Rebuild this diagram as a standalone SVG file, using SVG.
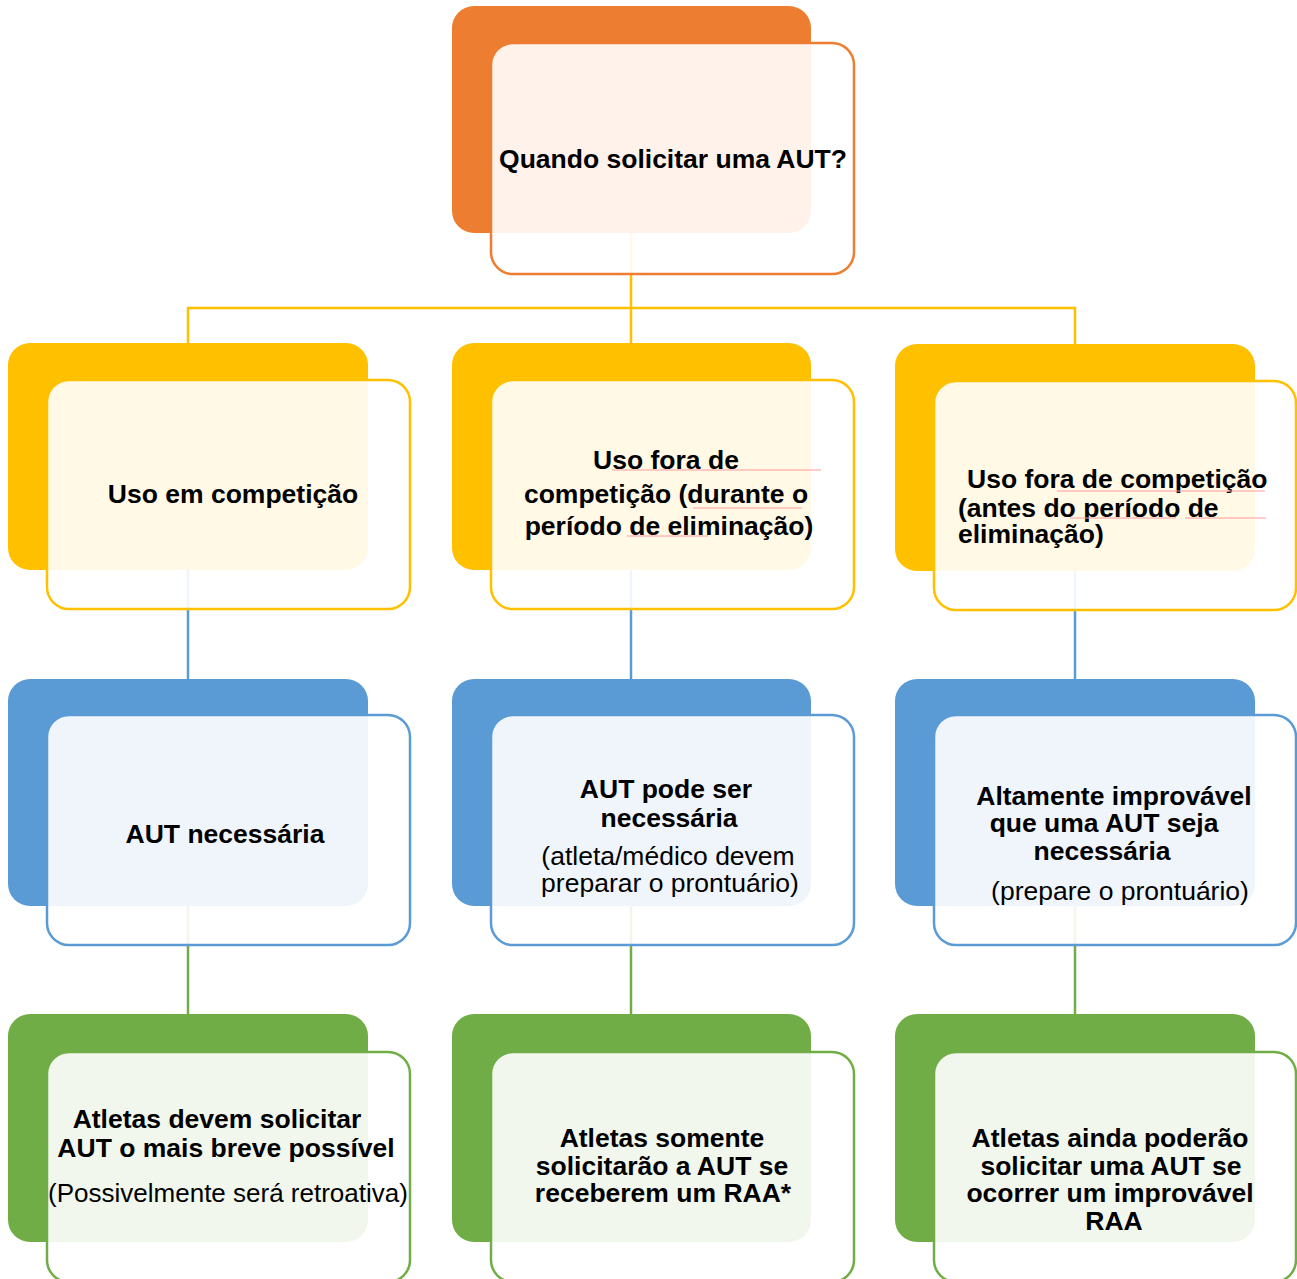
<svg xmlns="http://www.w3.org/2000/svg" width="1297" height="1279" viewBox="0 0 1297 1279">
<style>
.bk{stroke:none}
.fr{fill:#ffffff;fill-opacity:0.9;stroke-width:2.5}
.t{font-family:"Liberation Sans",Arial,sans-serif;fill:#000;font-size:26.5px;font-weight:bold}
.r{font-family:"Liberation Sans",Arial,sans-serif;fill:#000;font-size:26.5px;font-weight:normal}
.m{text-anchor:middle}
.sq{stroke:#ff9a9a;stroke-width:1;fill:none}
.cn{fill:none;stroke-width:2.5}
</style>
<rect width="1297" height="1279" fill="#ffffff"/>
<g id="connectors">
<path class="cn" stroke="#FFC000" d="M631 233V343M188 343V308H1075V344"/>
<path class="cn" stroke="#5B9BD5" d="M188 570V679M631 570V679M1075 571V679"/>
<path class="cn" stroke="#70AD47" d="M188 906V1014M631 906V1014M1075 906V1014"/>
</g>
<g id="n0">
<rect class="bk" x="452" y="6" width="359" height="227" rx="22" fill="#ED7D31"/>
<rect class="fr" x="491" y="43" width="363" height="231" rx="22" stroke="#ED7D31"/>
<text class="t m" x="673" y="168">Quando solicitar uma AUT?</text>
</g>
<g id="n1">
<rect class="bk" x="8" y="343" width="360" height="227" rx="22" fill="#FFC000"/>
<rect class="fr" x="47" y="380" width="363" height="229" rx="22" stroke="#FFC000"/>
<text class="t m" x="233" y="503">Uso em competição</text>
</g>
<g id="n2">
<rect class="bk" x="452" y="343" width="359" height="227" rx="22" fill="#FFC000"/>
<rect class="fr" x="491" y="380" width="363" height="229" rx="22" stroke="#FFC000"/>
<text class="t m" x="666" y="469">Uso fora de</text>
<text class="t m" x="666" y="503">competição (durante o</text>
<text class="t m" x="669" y="535">período de eliminação)</text>
<path class="sq" d="M612 470H821M693 508H802M627 536H708"/>
</g>
<g id="n3">
<rect class="bk" x="895" y="344" width="360" height="227" rx="22" fill="#FFC000"/>
<rect class="fr" x="934" y="381" width="362" height="229" rx="22" stroke="#FFC000"/>
<text class="t" x="967" y="488">Uso fora de competição</text>
<text class="t" x="958" y="517">(antes do período de</text>
<text class="t" x="958" y="543">eliminação)</text>
<path class="sq" d="M1057 491H1265M1070 518H1176M1185 518H1266"/>
</g>
<g id="n4">
<rect class="bk" x="8" y="679" width="360" height="227" rx="22" fill="#5B9BD5"/>
<rect class="fr" x="47" y="715" width="363" height="230" rx="22" stroke="#5B9BD5"/>
<text class="t m" x="225" y="843">AUT necessária</text>
</g>
<g id="n5">
<rect class="bk" x="452" y="679" width="359" height="227" rx="22" fill="#5B9BD5"/>
<rect class="fr" x="491" y="715" width="363" height="230" rx="22" stroke="#5B9BD5"/>
<text class="t m" x="666" y="798">AUT pode ser</text>
<text class="t m" x="669" y="827">necessária</text>
<text class="r m" x="668" y="865">(atleta/médico devem</text>
<text class="r m" x="670" y="892">preparar o prontuário)</text>
</g>
<g id="n6">
<rect class="bk" x="895" y="679" width="360" height="227" rx="22" fill="#5B9BD5"/>
<rect class="fr" x="934" y="715" width="362" height="230" rx="22" stroke="#5B9BD5"/>
<text class="t m" x="1114" y="805">Altamente improvável</text>
<text class="t m" x="1104" y="832">que uma AUT seja</text>
<text class="t m" x="1102" y="860">necessária</text>
<text class="r m" x="1120" y="900">(prepare o prontuário)</text>
</g>
<g id="n7">
<rect class="bk" x="8" y="1014" width="360" height="228" rx="22" fill="#70AD47"/>
<rect class="fr" x="47" y="1052" width="363" height="230" rx="22" stroke="#70AD47"/>
<text class="t m" x="217" y="1128">Atletas devem solicitar</text>
<text class="t m" x="226" y="1157">AUT o mais breve possível</text>
<text class="r m" x="228" y="1202" style="font-size:26px">(Possivelmente será retroativa)</text>
</g>
<g id="n8">
<rect class="bk" x="452" y="1014" width="359" height="228" rx="22" fill="#70AD47"/>
<rect class="fr" x="491" y="1052" width="363" height="230" rx="22" stroke="#70AD47"/>
<text class="t m" x="662" y="1147">Atletas somente</text>
<text class="t m" x="662" y="1175">solicitarão a AUT se</text>
<text class="t m" x="663" y="1202">receberem um RAA*</text>
</g>
<g id="n9">
<rect class="bk" x="895" y="1014" width="360" height="228" rx="22" fill="#70AD47"/>
<rect class="fr" x="934" y="1052" width="362" height="230" rx="22" stroke="#70AD47"/>
<text class="t m" x="1110" y="1147">Atletas ainda poderão</text>
<text class="t m" x="1111" y="1175">solicitar uma AUT se</text>
<text class="t m" x="1110" y="1202">ocorrer um improvável</text>
<text class="t m" x="1114" y="1230">RAA</text>
</g>
</svg>
